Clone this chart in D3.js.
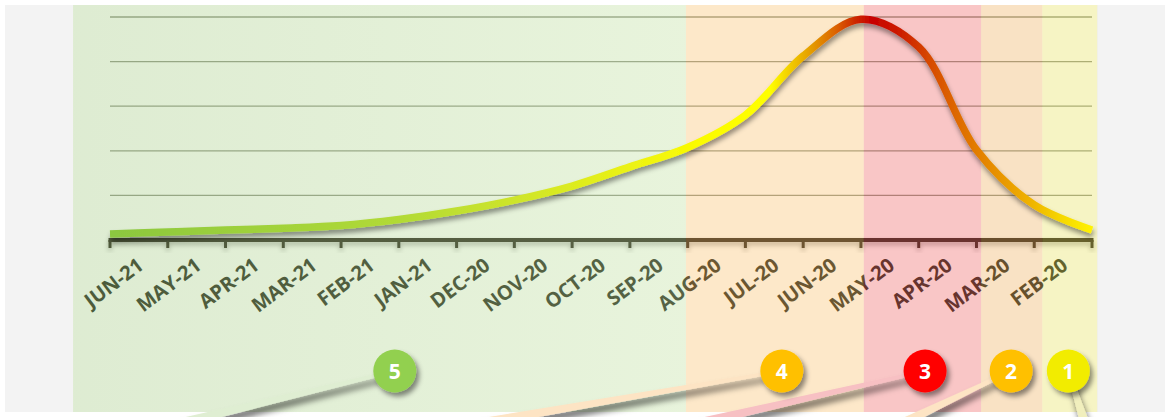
<!DOCTYPE html>
<html>
<head>
<meta charset="utf-8">
<script src="https://cdn.jsdelivr.net/npm/d3@7"></script>
<style>
  html, body { margin: 0; padding: 0; background: #ffffff; }
  svg { display: block; }
</style>
</head>
<body>
<svg id="chart" width="1166" height="417"></svg>
<script>
// Months along the axis, newest on the left
const months = ["JUN-21", "MAY-21", "APR-21", "MAR-21", "FEB-21", "JAN-21", "DEC-20", "NOV-20",
  "OCT-20", "SEP-20", "AUG-20", "JUL-20", "JUN-20", "MAY-20", "APR-20", "MAR-20", "FEB-20"];

// Wave level at each month boundary (18 boundaries for 17 months), left to right
const waveValues = [2.7, 3.6, 4.5, 5.3, 6.5, 9.2, 13, 17.9, 24.2, 32.8, 41.5, 56, 82.5, 99, 86.5, 40.4, 15.7, 4.5];

// Horizontal guide levels
const gridLevels = [20, 40, 60, 80, 100];

// Phases (numbered from the start of the outbreak), spans in month-boundary units
const phaseLabels = ["5", "4", "3", "2", "1"];
const phaseStart = [-0.64, 9.97, 13.05, 15.08, 16.14];
const phaseEnd = [9.97, 13.05, 15.08, 16.14, 17.09];
// Where each phase marker sits, in month-boundary units
const phaseMarkerAt = [4.93, 11.63, 14.11, 15.6, 16.59];

// ---- styles ----
const phaseFill = ["url(#greenBand)", "rgb(249,189,100)", "rgb(237,91,91)", "rgb(237,171,86)", "rgb(229,223,86)"];
const markerFill = ["#92d050", "#ffc000", "#ff0000", "#ffc000", "#f2ec00"];
const leaderFill = ["#dfeed2", "#fde4c4", "#f7c0c3", "#fde4c4", "#f1efbd"];
const inkColor = "#201f16";

const W = 1166, H = 417;
const plot = { left: 110, right: 1092, top: 17, bottom: 240 };
const panel = { left: 73, right: 1097, top: 5, bottom: 412 };

const svg = d3.select("#chart");
const defs = svg.append("defs");

// boundary index -> x
const x = d3.scaleLinear().domain([0, months.length]).range([plot.left, plot.right]);
// month band -> x (labels sit in the middle of each month)
const xBand = d3.scaleBand().domain(months).range([plot.left, plot.right]);
const y = d3.scaleLinear().domain([0, 100]).range([plot.bottom, plot.top]);

// ---- defs ----
const gGreen = defs.append("linearGradient").attr("id", "greenBand")
  .attr("gradientUnits", "userSpaceOnUse")
  .attr("x1", x(phaseStart[0])).attr("x2", x(phaseEnd[0])).attr("y1", 0).attr("y2", 0);
gGreen.append("stop").attr("offset", 0).attr("stop-color", "rgb(160,200,126)");
gGreen.append("stop").attr("offset", 1).attr("stop-color", "rgb(189,223,154)");

// colour along the wave: green → yellow → red at the peak → yellow
const waveStops = [
  [115, "#8cc83f"], [400, "#b2da36"], [520, "#cfe52a"], [640, "#eef312"], [700, "#fbfb00"],
  [770, "#ffff00"], [790, "#f2cc00"], [812, "#e49a00"], [835, "#dc6400"], [855, "#cd2a00"],
  [872, "#c80000"], [900, "#cc1c00"], [930, "#d64a00"], [960, "#de6c00"], [995, "#e79000"],
  [1035, "#f0b800"], [1062, "#f6d800"], [1092, "#fff200"]
];
const gWave = defs.append("linearGradient").attr("id", "waveGrad")
  .attr("gradientUnits", "userSpaceOnUse")
  .attr("x1", plot.left).attr("x2", plot.right).attr("y1", 0).attr("y2", 0);
waveStops.forEach(([px, c]) => {
  gWave.append("stop").attr("offset", (px - plot.left) / (plot.right - plot.left)).attr("stop-color", c);
});

function shadow(id, dx, dy, sd, op) {
  const f = defs.append("filter").attr("id", id)
    .attr("x", "-20%").attr("y", "-40%").attr("width", "140%").attr("height", "200%");
  f.append("feDropShadow").attr("dx", dx).attr("dy", dy).attr("stdDeviation", sd)
    .attr("flood-color", "#000").attr("flood-opacity", op);
}
shadow("waveShadow", 1, 4, 2.5, 0.42);
shadow("leaderShadow", 2, 6, 3, 0.6);
shadow("markerShadow", 3, 4, 2.5, 0.45);
shadow("axisShadow", 0, 3, 2.5, 0.35);

// ---- page background ----
svg.append("rect").attr("x", 0).attr("y", 0).attr("width", W).attr("height", H).attr("fill", "#ffffff");
svg.append("rect").attr("x", 5).attr("y", panel.top).attr("width", W - 6).attr("height", panel.bottom - panel.top)
  .attr("fill", "#f3f3f3");
svg.append("rect").attr("x", panel.left).attr("y", panel.top)
  .attr("width", panel.right - panel.left).attr("height", panel.bottom - panel.top).attr("fill", "#ffffff");

// ---- grid ----
svg.append("g").selectAll("line").data(gridLevels).join("line")
  .attr("x1", plot.left).attr("x2", plot.right)
  .attr("y1", d => y(d)).attr("y2", d => y(d))
  .attr("stroke", "#8f9486").attr("stroke-width", 1.3);

// ---- axis ----
const axisG = svg.append("g").attr("filter", "url(#axisShadow)");
axisG.append("line")
  .attr("x1", plot.left - 1.5).attr("x2", plot.right + 1.5)
  .attr("y1", plot.bottom).attr("y2", plot.bottom)
  .attr("stroke", inkColor).attr("stroke-width", 4);
axisG.selectAll("line.tick").data(d3.range(months.length + 1)).join("line")
  .attr("class", "tick")
  .attr("x1", d => x(d)).attr("x2", d => x(d))
  .attr("y1", plot.bottom).attr("y2", plot.bottom + 8)
  .attr("stroke", inkColor).attr("stroke-width", 3);

// month labels, slanted
svg.append("g").selectAll("text").data(months).join("text")
  .attr("transform", d => `translate(${xBand(d) + xBand.bandwidth() / 2 + 6},${plot.bottom + 28}) rotate(-37)`)
  .attr("text-anchor", "end")
  .attr("font-family", "'Open Sans', sans-serif")
  .attr("font-weight", 700)
  .attr("font-size", 20)
  .attr("fill", inkColor)
  .text(d => d);

// ---- phase bands (tint everything beneath) ----
svg.append("g").selectAll("rect").data(phaseLabels).join("rect")
  .attr("x", (d, i) => x(phaseStart[i]))
  .attr("width", (d, i) => x(phaseEnd[i]) - x(phaseStart[i]))
  .attr("y", panel.top).attr("height", panel.bottom - panel.top)
  .attr("fill", (d, i) => phaseFill[i])
  .attr("fill-opacity", 0.35);

// ---- wave ----
const line = d3.line()
  .x((d, i) => x(i))
  .y(d => y(d))
  .curve(d3.curveCatmullRom.alpha(0.5));
svg.append("path")
  .datum(waveValues)
  .attr("d", line)
  .attr("fill", "none")
  .attr("stroke", "url(#waveGrad)")
  .attr("stroke-width", 7.5)
  .attr("filter", "url(#waveShadow)");

// ---- phase markers with leader strips ----
const markerY = 371, markerR = 21.5;
// where each strip leaves the bottom edge
const leaderEnd = [[151, 430], [440, 430], [668, 430], [888, 430], [1087, 430]];
function wedge(x0, y0, x1, y1, w0, w1) {
  const dx = x1 - x0, dy = y1 - y0, len = Math.hypot(dx, dy);
  const nx = -dy / len, ny = dx / len;
  return [
    [x0 + nx * w0 / 2, y0 + ny * w0 / 2], [x1 + nx * w1 / 2, y1 + ny * w1 / 2],
    [x1 - nx * w1 / 2, y1 - ny * w1 / 2], [x0 - nx * w0 / 2, y0 - ny * w0 / 2]
  ];
}
const markers = svg.append("g");
markers.selectAll("polygon").data(phaseLabels).join("polygon")
  .attr("points", (d, i) => wedge(x(phaseMarkerAt[i]), markerY, leaderEnd[i][0], leaderEnd[i][1], 3, 10)
    .map(p => p.join(",")).join(" "))
  .attr("fill", (d, i) => leaderFill[i])
  .attr("filter", "url(#leaderShadow)");
markers.selectAll("circle").data(phaseLabels).join("circle")
  .attr("cx", (d, i) => x(phaseMarkerAt[i]))
  .attr("cy", markerY)
  .attr("r", markerR)
  .attr("fill", (d, i) => markerFill[i])
  .attr("filter", "url(#markerShadow)");
markers.selectAll("text").data(phaseLabels).join("text")
  .attr("x", (d, i) => x(phaseMarkerAt[i]))
  .attr("y", markerY + 7.5)
  .attr("text-anchor", "middle")
  .attr("font-family", "'Open Sans', sans-serif")
  .attr("font-weight", 700)
  .attr("font-size", 21)
  .attr("fill", "#ffffff")
  .text(d => d);
</script>
</body>
</html>
